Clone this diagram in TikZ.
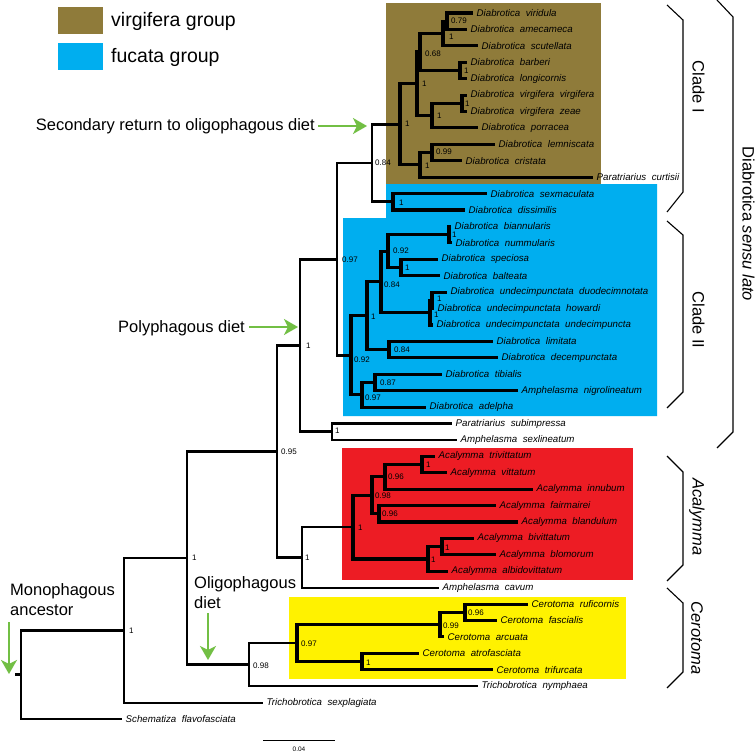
\documentclass[tikz,border=0pt]{standalone}
\usepackage{fontspec}
\setmainfont{Liberation Sans}
\usetikzlibrary{arrows.meta}
\definecolor{vbrown}{RGB}{143,123,58}
\definecolor{fblue}{RGB}{0,174,239}
\definecolor{ared}{RGB}{237,28,36}
\definecolor{cyellow}{RGB}{255,242,0}
\definecolor{agreen}{RGB}{114,191,68}
\begin{document}
\begin{tikzpicture}[x=1pt,y=-1pt,
  thk/.style={line width=3.1pt,line join=miter},
  med/.style={line width=2.7pt,line join=miter},
  thn/.style={line width=2.2pt,line join=miter},
  leaf/.style={anchor=west,inner xsep=3.5pt,inner ysep=1pt,font={\fontsize{9.7}{11}\selectfont\itshape\spaceskip=5.5pt\relax}},
  supval/.style={anchor=west,inner sep=0pt,font=\fontsize{8}{9}\selectfont},
  big/.style={inner sep=0pt,font=\fontsize{16.5}{19}\selectfont},
  brk/.style={line width=1.1pt,line join=miter},
  garrow/.style={agreen,line width=1.6pt,-{Stealth[length=14pt,width=16pt,inset=4pt]}}
]
\useasboundingbox (0,0) rectangle (756,752);
\fill[white] (0,0) rectangle (756,752);
% coloured group boxes
\fill[vbrown] (386,3) rectangle (601,184);
\fill[fblue] (386,184) -- (657,184) -- (657,416) -- (343,416) -- (343,218) -- (386,218) -- cycle;
\fill[ared] (342,448) rectangle (633,580);
\fill[cyellow] (289,597) rectangle (626,679);
% legend
\node[fill=vbrown,minimum width=45pt,minimum height=27pt,inner sep=0pt] (legv) at (80.5,20.5) {};
\node[fill=fblue,minimum width=45pt,minimum height=27pt,inner sep=0pt] (legf) at (80.5,56.5) {};
\node[anchor=base west,inner sep=0pt,font=\fontsize{19.5}{22}\selectfont] (legvt) at (111,27) {virgifera group};
\node[anchor=base west,inner sep=0pt,font=\fontsize{19.5}{22}\selectfont] (legft) at (111,63) {fucata group};
% leaves
\node[leaf] (l1) at (473,13) {Diabrotica viridula};
\node[leaf] (l2) at (467,29.4) {Diabrotica amecameca};
\node[leaf] (l3) at (478,45.8) {Diabrotica scutellata};
\node[leaf] (l4) at (467,62.3) {Diabrotica barberi};
\node[leaf] (l5) at (467,78.7) {Diabrotica longicornis};
\node[leaf] (l6) at (467,95.1) {Diabrotica virgifera virgifera};
\node[leaf] (l7) at (467,111.5) {Diabrotica virgifera zeae};
\node[leaf] (l8) at (478,127.9) {Diabrotica porracea};
\node[leaf] (l9) at (495,144.4) {Diabrotica lemniscata};
\node[leaf] (l10) at (462,160.8) {Diabrotica cristata};
\node[leaf] (l11) at (593,177.2) {Paratriarius curtisii};
\node[leaf] (l12) at (487,193.6) {Diabrotica sexmaculata};
\node[leaf] (l13) at (465,210) {Diabrotica dissimilis};
\node[leaf] (l14) at (451,226.5) {Diabrotica biannularis};
\node[leaf] (l15) at (452,242.9) {Diabrotica nummularis};
\node[leaf] (l16) at (438,259.3) {Diabrotica speciosa};
\node[leaf] (l17) at (440,275.7) {Diabrotica balteata};
\node[leaf] (l18) at (447,292.1) {Diabrotica undecimpunctata duodecimnotata};
\node[leaf] (l19) at (434,308.6) {Diabrotica undecimpunctata howardi};
\node[leaf] (l20) at (433,325) {Diabrotica undecimpunctata undecimpuncta};
\node[leaf] (l21) at (493,341.4) {Diabrotica limitata};
\node[leaf] (l22) at (498,357.8) {Diabrotica decempunctata};
\node[leaf] (l23) at (442,374.2) {Diabrotica tibialis};
\node[leaf] (l24) at (518,390.6) {Amphelasma nigrolineatum};
\node[leaf] (l25) at (426,407.1) {Diabrotica adelpha};
\node[leaf] (l26) at (452,423.5) {Paratriarius subimpressa};
\node[leaf] (l27) at (457,439.9) {Amphelasma sexlineatum};
\node[leaf] (l28) at (435,456.3) {Acalymma trivittatum};
\node[leaf] (l29) at (447,472.7) {Acalymma vittatum};
\node[leaf] (l30) at (533,489.2) {Acalymma innubum};
\node[leaf] (l31) at (496,505.6) {Acalymma fairmairei};
\node[leaf] (l32) at (518,522) {Acalymma blandulum};
\node[leaf] (l33) at (474,538.4) {Acalymma bivittatum};
\node[leaf] (l34) at (496,554.8) {Acalymma blomorum};
\node[leaf] (l35) at (448,571.3) {Acalymma albidovittatum};
\node[leaf] (l36) at (439,587.7) {Amphelasma cavum};
\node[leaf] (l37) at (528,604.1) {Cerotoma ruficornis};
\node[leaf] (l38) at (497,620.5) {Cerotoma fascialis};
\node[leaf] (l39) at (444,636.9) {Cerotoma arcuata};
\node[leaf] (l40) at (419,653.4) {Cerotoma atrofasciata};
\node[leaf] (l41) at (493,669.8) {Cerotoma trifurcata};
\node[leaf] (l42) at (478,686.2) {Trichobrotica nymphaea};
\node[leaf] (l43) at (263,702.6) {Trichobrotica sexplagiata};
\node[leaf] (l44) at (122,719) {Schematiza flavofasciata};
% internal nodes
\coordinate (n1) at (447,21.2);
\coordinate (n2) at (443,33.5);
\coordinate (n3) at (460,70.5);
\coordinate (n4) at (420,52);
\coordinate (n5) at (462,103.3);
\coordinate (n6) at (432,115.6);
\coordinate (n7) at (417,83.8);
\coordinate (n8) at (432,152.6);
\coordinate (n9) at (420,164.9);
\coordinate (n10) at (400,124.35);
\coordinate (n11) at (393,201.8);
\coordinate (n12) at (372,163.1);
\coordinate (n13) at (449,234.7);
\coordinate (n14) at (401,267.5);
\coordinate (n15) at (388,251.1);
\coordinate (n16) at (432,300.35);
\coordinate (n17) at (430,312.7);
\coordinate (n18) at (381,281.9);
\coordinate (n19) at (389,349.6);
\coordinate (n20) at (367,315.75);
\coordinate (n21) at (375,382.4);
\coordinate (n22) at (362,394.75);
\coordinate (n23) at (351,355.25);
\coordinate (n24) at (337,259.2);
\coordinate (n25) at (332,431.7);
\coordinate (n26) at (300,345.45);
\coordinate (a1) at (422,464.5);
\coordinate (a2) at (385,476.85);
\coordinate (a3) at (379,513.8);
\coordinate (a4) at (372,495.3);
\coordinate (a5) at (442,546.6);
\coordinate (a6) at (428,558.95);
\coordinate (a7) at (353,527.1);
\coordinate (a8) at (302,557.4);
\coordinate (n27) at (277,451.4);
\coordinate (c1) at (465,612.3);
\coordinate (c2) at (440,624.6);
\coordinate (c3) at (362,661.6);
\coordinate (c4) at (297,643.1);
\coordinate (c5) at (249,664.65);
\coordinate (n28) at (187,558);
\coordinate (n29) at (124,630.3);
\coordinate (root) at (21,674.65);
\coordinate (stub) at (15,674.65);
% branches: virgifera group
\draw[thk] (n1) |- (l1.west); \draw[thk] (n1) |- (l2.west);
\draw[thk] (n2) |- (n1); \draw[thk] (n2) |- (l3.west);
\draw[thk] (n3) |- (l4.west); \draw[thk] (n3) |- (l5.west);
\draw[thk] (n4) |- (n2); \draw[thk] (n4) |- (n3);
\draw[thk] (n5) |- (l6.west); \draw[thk] (n5) |- (l7.west);
\draw[thk] (n6) |- (n5); \draw[thk] (n6) |- (l8.west);
\draw[thk] (n7) |- (n4); \draw[thk] (n7) |- (n6);
\draw[thk] (n8) |- (l9.west); \draw[thk] (n8) |- (l10.west);
\draw[thk] (n9) |- (n8); \draw[thk] (n9) |- (l11.west);
\draw[thk] (n10) |- (n7); \draw[thk] (n10) |- (n9);
\draw[thk] (n11) |- (l12.west); \draw[thk] (n11) |- (l13.west);
\draw[med] (n12) |- (n10); \draw[med] (n12) |- (n11);
% fucata group
\draw[thk] (n13) |- (l14.west); \draw[thk] (n13) |- (l15.west);
\draw[thk] (n14) |- (l16.west); \draw[thk] (n14) |- (l17.west);
\draw[thk] (n15) |- (n13); \draw[thk] (n15) |- (n14);
\draw[thk] (n16) |- (l18.west); \draw[thk] (n16) |- (l19.west);
\draw[thk] (n17) |- (n16); \draw[thk] (n17) |- (l20.west);
\draw[thk] (n18) |- (n15); \draw[thk] (n18) |- (n17);
\draw[thk] (n19) |- (l21.west); \draw[thk] (n19) |- (l22.west);
\draw[thk] (n20) |- (n18); \draw[thk] (n20) |- (n19);
\draw[thk] (n21) |- (l23.west); \draw[thk] (n21) |- (l24.west);
\draw[thk] (n22) |- (n21); \draw[thk] (n22) |- (l25.west);
\draw[thk] (n23) |- (n20); \draw[thk] (n23) |- (n22);
\draw[med] (n24) |- (n12); \draw[med] (n24) |- (n23);
\draw[thn] (n25) |- (l26.west); \draw[thn] (n25) |- (l27.west);
\draw[med] (n26) |- (n24); \draw[med] (n26) |- (n25);
% Acalymma
\draw[thk] (a1) |- (l28.west); \draw[thk] (a1) |- (l29.west);
\draw[thk] (a2) |- (a1); \draw[thk] (a2) |- (l30.west);
\draw[thk] (a3) |- (l31.west); \draw[thk] (a3) |- (l32.west);
\draw[thk] (a4) |- (a2); \draw[thk] (a4) |- (a3);
\draw[thk] (a5) |- (l33.west); \draw[thk] (a5) |- (l34.west);
\draw[thk] (a6) |- (a5); \draw[thk] (a6) |- (l35.west);
\draw[thk] (a7) |- (a4); \draw[thk] (a7) |- (a6);
\draw[med] (a8) |- (a7); \draw[thn] (a8) |- (l36.west);
\draw[med] (n27) |- (n26); \draw[med] (n27) |- (a8);
% Cerotoma
\draw[thk] (c1) |- (l37.west); \draw[thk] (c1) |- (l38.west);
\draw[thk] (c2) |- (c1); \draw[thk] (c2) |- (l39.west);
\draw[thk] (c3) |- (l40.west); \draw[thk] (c3) |- (l41.west);
\draw[thk] (c4) |- (c2); \draw[thk] (c4) |- (c3);
\draw[med] (c5) |- (c4); \draw[thn] (c5) |- (l42.west);
% backbone
\draw[med] (n28) |- (n27); \draw[med] (n28) |- (c5);
\draw[med] (n29) |- (n28); \draw[thn] (n29) |- (l43.west);
\draw[med] (root) |- (n29); \draw[thn] (root) |- (l44.west);
\draw[med] (stub) -- (root);
% support values
\node[supval] (s1) at (451,21) {0.79};
\node[supval] (s2) at (449,37) {1};
\node[supval] (s3) at (464,71) {1};
\node[supval] (s4) at (425,54) {0.68};
\node[supval] (s5) at (465,104) {1};
\node[supval] (s6) at (437,116) {1};
\node[supval] (s7) at (422,84) {1};
\node[supval] (s8) at (436,152) {0.99};
\node[supval] (s9) at (425,166) {1};
\node[supval] (s10) at (405,124) {1};
\node[supval] (s11) at (399,203) {1};
\node[supval] (s12) at (375,163) {0.84};
\node[supval] (s13) at (452,235) {1};
\node[supval] (s14) at (405,268) {1};
\node[supval] (s15) at (393,251) {0.92};
\node[supval] (s16) at (437,299) {1};
\node[supval] (s17) at (434,315) {1};
\node[supval] (s18) at (384,285) {0.84};
\node[supval] (s19) at (394,350) {0.84};
\node[supval] (s20) at (371,317) {1};
\node[supval] (s21) at (380,383) {0.87};
\node[supval] (s22) at (365,398) {0.97};
\node[supval] (s23) at (354,360) {0.92};
\node[supval] (s24) at (342,260) {0.97};
\node[supval] (s25) at (335,431) {1};
\node[supval] (s26) at (306,346) {1};
\node[supval] (sa1) at (426,465) {1};
\node[supval] (sa2) at (388,477) {0.96};
\node[supval] (sa3) at (382,514) {0.96};
\node[supval] (sa4) at (375,496) {0.98};
\node[supval] (sa5) at (445,548) {1};
\node[supval] (sa6) at (431,560) {1};
\node[supval] (sa7) at (358,528) {1};
\node[supval] (sa8) at (305,558) {1};
\node[supval] (s27) at (281,452) {0.95};
\node[supval] (sc1) at (468,613) {0.96};
\node[supval] (sc2) at (443,626) {0.99};
\node[supval] (sc3) at (366,663) {1};
\node[supval] (sc4) at (301,644) {0.97};
\node[supval] (sc5) at (253,666) {0.98};
\node[supval] (s28) at (192,558) {1};
\node[supval] (s29) at (129,631) {1};
% annotations
\node[big,anchor=base east] (sec) at (315,131) {Secondary return to oligophagous diet};
\coordinate (secA) at (318,126); \coordinate (secB) at (367,126);
\draw[garrow] (secA) -- (secB);
\node[big,anchor=base east] (poly) at (245,332) {Polyphagous diet};
\coordinate (polA) at (249,327); \coordinate (polB) at (298,327);
\draw[garrow] (polA) -- (polB);
\node[big,anchor=base west] (mono1) at (10,595) {Monophagous};
\node[big,anchor=base west] (mono2) at (10,615) {ancestor};
\coordinate (monA) at (9,622); \coordinate (monB) at (9,674);
\draw[garrow] (monA) -- (monB);
\node[big,anchor=base west] (oli1) at (194,588) {Oligophagous};
\node[big,anchor=base west] (oli2) at (194,608) {diet};
\coordinate (oliA) at (208,613); \coordinate (oliB) at (208,660);
\draw[garrow] (oliA) -- (oliB);
% brackets
\draw[brk] (667,5) -- (683,20) -- (683,192) -- (667,212);
\draw[brk] (667,221) -- (683,235) -- (683,392) -- (667,408);
\draw[brk] (717,0) -- (733,17) -- (733,432) -- (717,448);
\draw[brk] (667,456) -- (683,472) -- (683,565) -- (667,581);
\draw[brk] (667,588) -- (683,603) -- (683,672) -- (667,688);
\node[big,rotate=-90] (cl1) at (698.5,87) {Clade I};
\node[big,rotate=-90] (cl2) at (698.5,320) {Clade II};
\node[big,rotate=-90] (dsl) at (748.5,224) {Diabrotica \textit{sensu lato}};
\node[big,rotate=-90] (aca) at (697,517) {\textit{Acalymma}};
\node[big,rotate=-90] (cer) at (697,638) {\textit{Cerotoma}};
% scale bar
\coordinate (sb1) at (263,740); \coordinate (sb2) at (335,740);
\draw[line width=0.7pt] (sb1) -- (sb2);
\node[inner sep=0pt,font=\fontsize{6.5}{7}\selectfont] (sbt) at (299,749) {0.04};
\end{tikzpicture}
\end{document}
